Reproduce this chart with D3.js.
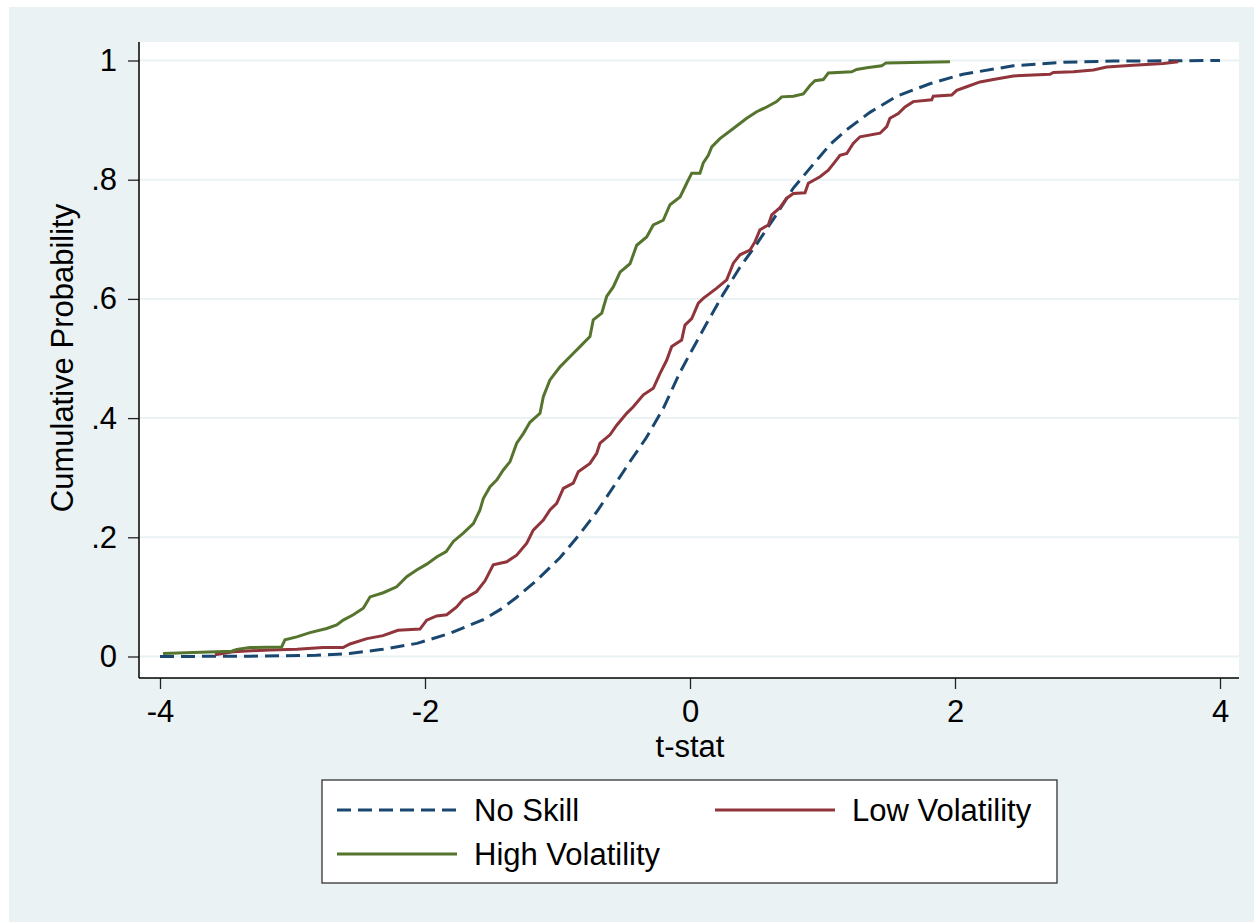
<!DOCTYPE html>
<html>
<head>
<meta charset="utf-8">
<script src="https://cdn.jsdelivr.net/npm/d3@7"></script>
<style>
  body { margin: 0; background: #fff; }
  text { font-family: "Liberation Sans", Arial, sans-serif; fill: #000; }
</style>
</head>
<body>
<svg id="chart" width="1254" height="922"></svg>
<script>
// tick values and labels
let xTicks = [-4, -2, 0, 2, 4];
let yTicks = [0, .2, .4, .6, .8, 1];
let yTickLabels = ["0", ".2", ".4", ".6", ".8", "1"];

let seriesNames = ["No Skill", "Low Volatility", "High Volatility"];

// [t-stat, cumulative probability]
let noSkill = [
    [-4.0, 0.000], [-3.32, 0.0005], [-2.82, 0.002], [-2.57, 0.005], [-2.32, 0.012],
    [-2.06, 0.022], [-1.81, 0.039], [-1.56, 0.062], [-1.43, 0.079], [-1.31, 0.099],
    [-1.16, 0.127], [-0.98, 0.166], [-0.83, 0.206], [-0.70, 0.244], [-0.58, 0.284],
    [-0.45, 0.328], [-0.33, 0.367], [-0.20, 0.417], [-0.075, 0.477], [0.0, 0.508],
    [0.126, 0.559], [0.251, 0.608], [0.377, 0.653], [0.503, 0.692], [0.654, 0.742],
    [0.78, 0.786], [0.931, 0.826], [1.057, 0.859], [1.183, 0.884], [1.358, 0.913],
    [1.56, 0.940], [1.81, 0.961], [2.06, 0.977], [2.44, 0.991], [2.82, 0.997],
    [3.2, 0.999], [4.0, 1.000]
];

let lowVol = [
    [-3.585, 0.003], [-3.449, 0.008], [-3.17, 0.011], [-2.966, 0.012], [-2.77, 0.015],
    [-2.619, 0.015], [-2.566, 0.021], [-2.438, 0.030], [-2.317, 0.035], [-2.204, 0.044],
    [-2.038, 0.046], [-1.987, 0.061], [-1.912, 0.068], [-1.836, 0.070], [-1.761, 0.083],
    [-1.711, 0.096], [-1.61, 0.109], [-1.547, 0.127], [-1.485, 0.154], [-1.383, 0.159],
    [-1.308, 0.170], [-1.232, 0.190], [-1.183, 0.212], [-1.107, 0.229], [-1.057, 0.246],
    [-1.006, 0.257], [-0.956, 0.282], [-0.881, 0.291], [-0.843, 0.310], [-0.755, 0.324],
    [-0.704, 0.341], [-0.679, 0.358], [-0.604, 0.372], [-0.553, 0.388], [-0.478, 0.408],
    [-0.428, 0.419], [-0.352, 0.439], [-0.277, 0.450], [-0.226, 0.475], [-0.176, 0.497],
    [-0.138, 0.520], [-0.063, 0.531], [-0.038, 0.556], [0.013, 0.567], [0.063, 0.593],
    [0.10, 0.601], [0.202, 0.618], [0.277, 0.632], [0.327, 0.660], [0.377, 0.674],
    [0.453, 0.682], [0.491, 0.696], [0.528, 0.716], [0.591, 0.724], [0.617, 0.741],
    [0.679, 0.753], [0.73, 0.769], [0.78, 0.777], [0.868, 0.778], [0.893, 0.794],
    [0.981, 0.805], [1.044, 0.816], [1.094, 0.830], [1.132, 0.841], [1.183, 0.844],
    [1.232, 0.861], [1.283, 0.872], [1.434, 0.878], [1.485, 0.889], [1.509, 0.903],
    [1.572, 0.911], [1.623, 0.922], [1.685, 0.931], [1.824, 0.934], [1.836, 0.940],
    [1.975, 0.942], [2.013, 0.950], [2.088, 0.956], [2.189, 0.964], [2.289, 0.968],
    [2.44, 0.974], [2.717, 0.977], [2.742, 0.980], [2.893, 0.981], [3.044, 0.984],
    [3.145, 0.989], [3.346, 0.992], [3.572, 0.995], [3.685, 0.998]
];

let highVol = [
    [-3.977, 0.005], [-3.459, 0.009], [-3.421, 0.012], [-3.321, 0.015], [-3.082, 0.016],
    [-3.057, 0.028], [-2.968, 0.033], [-2.868, 0.040], [-2.742, 0.047], [-2.666, 0.053],
    [-2.617, 0.061], [-2.541, 0.070], [-2.466, 0.081], [-2.415, 0.100], [-2.315, 0.107],
    [-2.214, 0.117], [-2.138, 0.134], [-2.063, 0.145], [-1.987, 0.155], [-1.912, 0.167],
    [-1.84, 0.176], [-1.786, 0.193], [-1.711, 0.207], [-1.635, 0.223], [-1.585, 0.246],
    [-1.56, 0.265], [-1.509, 0.285], [-1.459, 0.296], [-1.409, 0.313], [-1.358, 0.327],
    [-1.308, 0.358], [-1.258, 0.374], [-1.208, 0.393], [-1.132, 0.408], [-1.107, 0.436],
    [-1.057, 0.464], [-0.981, 0.486], [-0.906, 0.503], [-0.83, 0.520], [-0.755, 0.537],
    [-0.73, 0.565], [-0.666, 0.576], [-0.629, 0.604], [-0.579, 0.620], [-0.528, 0.645],
    [-0.453, 0.659], [-0.402, 0.690], [-0.327, 0.704], [-0.277, 0.724], [-0.202, 0.732],
    [-0.151, 0.758], [-0.075, 0.771], [-0.025, 0.794], [0.013, 0.811], [0.075, 0.811],
    [0.10, 0.828], [0.138, 0.841], [0.164, 0.855], [0.226, 0.869], [0.327, 0.886],
    [0.428, 0.903], [0.503, 0.914], [0.579, 0.922], [0.654, 0.931], [0.692, 0.939],
    [0.78, 0.940], [0.855, 0.944], [0.906, 0.958], [0.943, 0.966], [1.006, 0.968],
    [1.044, 0.979], [1.22, 0.981], [1.258, 0.985], [1.334, 0.988], [1.447, 0.991],
    [1.479, 0.996], [1.962, 0.998]
];

const colors = ["#1a476f", "#90353b", "#55752f"];
const dashes = ["14,7", null, null];
let allSeries = [noSkill, lowVol, highVol];

let svg = d3.select("#chart");

let plot = {left: 139, right: 1239, top: 42, bottom: 678};
let fontSize = "31px";

// graph background
svg.append("rect")
    .attr("x", 9).attr("y", 7)
    .attr("width", 1245).attr("height", 915)
    .attr("fill", "#eaf2f3");

svg.append("rect")
    .attr("x", plot.left).attr("y", plot.top)
    .attr("width", plot.right - plot.left)
    .attr("height", plot.bottom - plot.top)
    .attr("fill", "#fff");

let xScale = d3.scaleLinear().domain([-4, 4]).range([160, 1220]);
let yScale = d3.scaleLinear().domain([0, 1]).range([656.5, 60.5]);

// grid lines
svg.append("g")
    .selectAll("line")
    .data(yTicks)
    .enter().append("line")
    .attr("x1", plot.left).attr("x2", plot.right)
    .attr("y1", d => yScale(d)).attr("y2", d => yScale(d))
    .style("stroke", "#eaf2f3")
    .style("stroke-width", 2);

let line = d3.line()
    .x(d => xScale(d[0]))
    .y(d => yScale(d[1]));

svg.append("g")
    .selectAll("path")
    .data(allSeries)
    .enter().append("path")
    .attr("d", d => line(d))
    .attr("fill", "none")
    .style("stroke", (d, i) => colors[i])
    .style("stroke-width", 3)
    .style("stroke-dasharray", (d, i) => dashes[i]);

// axes
let yAxis = d3.axisLeft(yScale)
    .tickValues(yTicks)
    .tickFormat((d, i) => yTickLabels[i])
    .tickSize(11)
    .tickPadding(11);

let xAxis = d3.axisBottom(xScale)
    .tickValues(xTicks)
    .tickFormat(d3.format("d"))
    .tickSize(11)
    .tickPadding(11);

let gy = svg.append("g")
    .attr("transform", "translate(" + plot.left + ",0)")
    .call(yAxis);

let gx = svg.append("g")
    .attr("transform", "translate(0," + plot.bottom + ")")
    .call(xAxis);

[gx, gy].forEach(g => {
    g.select(".domain").remove();
    g.selectAll(".tick line").style("stroke", "#222").style("stroke-width", 1.3);
    g.selectAll(".tick text")
        .style("font-size", fontSize)
        .style("font-family", "'Liberation Sans', Arial, sans-serif")
        .attr("fill", "#000");
});
gx.selectAll(".tick text").text(d => d < 0 ? "-" + Math.abs(d) : d);

svg.append("line")
    .attr("x1", plot.left).attr("x2", plot.left)
    .attr("y1", plot.top).attr("y2", plot.bottom)
    .style("stroke", "#000").style("stroke-width", 1.5);

svg.append("line")
    .attr("x1", plot.left).attr("x2", plot.right)
    .attr("y1", plot.bottom).attr("y2", plot.bottom)
    .style("stroke", "#000").style("stroke-width", 1.5);

// axis titles
svg.append("text")
    .attr("x", 690).attr("y", 757)
    .attr("text-anchor", "middle")
    .style("font-size", fontSize)
    .text("t-stat");

svg.append("text")
    .attr("transform", "translate(73,358) rotate(-90)")
    .attr("text-anchor", "middle")
    .style("font-size", fontSize)
    .text("Cumulative Probability");

// legend
svg.append("rect")
    .attr("x", 322).attr("y", 780)
    .attr("width", 735).attr("height", 103)
    .attr("fill", "#fff")
    .style("stroke", "#333")
    .style("stroke-width", 1.3);

let legendPos = [[337, 810], [715, 810], [337, 854]];

let legend = svg.append("g")
    .selectAll("g")
    .data(seriesNames)
    .enter().append("g")
    .attr("transform", (d, i) => "translate(" + legendPos[i][0] + "," + legendPos[i][1] + ")");

legend.append("line")
    .attr("x1", 0).attr("x2", 120)
    .attr("y1", 0).attr("y2", 0)
    .style("stroke", (d, i) => colors[i])
    .style("stroke-width", 3)
    .style("stroke-dasharray", (d, i) => dashes[i]);

legend.append("text")
    .attr("x", 137).attr("y", 11)
    .style("font-size", fontSize)
    .text(d => d);
</script>
</body>
</html>
